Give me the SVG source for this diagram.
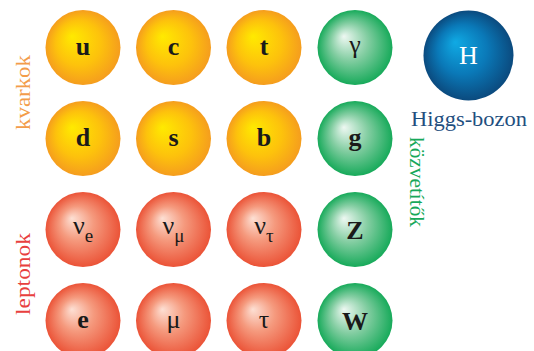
<svg xmlns="http://www.w3.org/2000/svg" width="534" height="351" viewBox="0 0 534 351">
<defs>
<radialGradient id="gy" cx="0.5" cy="0.5" r="0.5" fx="0.35" fy="0.35"><stop offset="0" stop-color="#ffea00"/><stop offset="0.6" stop-color="#fdc20c"/><stop offset="1" stop-color="#f59d1e"/></radialGradient>
<radialGradient id="gr" cx="0.5" cy="0.5" r="0.5" fx="0.35" fy="0.35"><stop offset="0" stop-color="#fde0d4"/><stop offset="0.45" stop-color="#f59a7e"/><stop offset="1" stop-color="#eb5337"/></radialGradient>
<radialGradient id="gg" cx="0.5" cy="0.5" r="0.5" fx="0.35" fy="0.35"><stop offset="0" stop-color="#eef8f2"/><stop offset="0.5" stop-color="#82cda1"/><stop offset="1" stop-color="#17aa5a"/></radialGradient>
<radialGradient id="gb" cx="0.5" cy="0.5" r="0.5" fx="0.35" fy="0.35"><stop offset="0" stop-color="#10aae4"/><stop offset="0.55" stop-color="#0a79b8"/><stop offset="1" stop-color="#0b4a7e"/></radialGradient>
</defs>
<style>
text{font-family:"Liberation Serif","Times New Roman",serif}
.l{font-size:26px;fill:#1a1a1a;text-anchor:middle}
.b{font-weight:bold}
.s{font-size:19px}
.lab{font-size:22px}
</style>
<g id="u"><circle cx="83" cy="47.5" r="37.5" fill="url(#gy)"/><text class="l b" x="83" y="54.5">u</text></g>
<g id="c"><circle cx="173.5" cy="47.5" r="37.5" fill="url(#gy)"/><text class="l b" x="173.5" y="54.5">c</text></g>
<g id="t"><circle cx="264" cy="47.5" r="37.5" fill="url(#gy)"/><text class="l b" x="264" y="54.5">t</text></g>
<g id="gamma"><circle cx="355" cy="47.5" r="37.5" fill="url(#gg)"/><text class="l" x="355" y="53">γ</text></g>
<g id="d"><circle cx="83" cy="138.5" r="37.5" fill="url(#gy)"/><text class="l b" x="83" y="145.5">d</text></g>
<g id="s"><circle cx="173.5" cy="138.5" r="37.5" fill="url(#gy)"/><text class="l b" x="173.5" y="145.5">s</text></g>
<g id="b"><circle cx="264" cy="138.5" r="37.5" fill="url(#gy)"/><text class="l b" x="264" y="145.5">b</text></g>
<g id="g"><circle cx="355" cy="138.5" r="37.5" fill="url(#gg)"/><text class="l b" x="355" y="145.5">g</text></g>
<g id="nue"><circle cx="83" cy="229.5" r="37.5" fill="url(#gr)"/><text class="l" x="83" y="234">ν<tspan class="s" dy="7.5">e</tspan></text></g>
<g id="numu"><circle cx="173.5" cy="229.5" r="37.5" fill="url(#gr)"/><text class="l" x="173.5" y="234">ν<tspan class="s" dy="7.5">μ</tspan></text></g>
<g id="nutau"><circle cx="264" cy="229.5" r="37.5" fill="url(#gr)"/><text class="l" x="264" y="234">ν<tspan class="s" dy="7.5">τ</tspan></text></g>
<g id="Z"><circle cx="355" cy="229.5" r="37.5" fill="url(#gg)"/><text class="l b" x="355" y="238.5">Z</text></g>
<g id="e"><circle cx="83" cy="320.5" r="37.5" fill="url(#gr)"/><text class="l b" x="83" y="327.5">e</text></g>
<g id="mu"><circle cx="173.5" cy="320.5" r="37.5" fill="url(#gr)"/><text class="l" x="173.5" y="327.5">μ</text></g>
<g id="tau"><circle cx="264" cy="320.5" r="37.5" fill="url(#gr)"/><text class="l" x="264" y="327.5">τ</text></g>
<g id="W"><circle cx="355" cy="320.5" r="37.5" fill="url(#gg)"/><text class="l b" x="355" y="329.5">W</text></g>
<g id="H"><circle cx="468.5" cy="55.5" r="45" fill="url(#gb)"/><text class="l" x="468.5" y="64" style="fill:#ffffff">H</text></g>
<g id="labels">
<text class="lab" x="411" y="126" fill="#1f4f7f" textLength="116" lengthAdjust="spacingAndGlyphs">Higgs-bozon</text>
<text class="lab" transform="translate(30,130) rotate(-90)" fill="#f39c4a" textLength="75" lengthAdjust="spacingAndGlyphs">kvarkok</text>
<text class="lab" transform="translate(30,315) rotate(-90)" fill="#e8403e" textLength="82" lengthAdjust="spacingAndGlyphs">leptonok</text>
<text class="lab" transform="translate(410,137) rotate(90)" fill="#17a85a" textLength="90" lengthAdjust="spacingAndGlyphs">közvetítők</text>
</g>
<g id="connectors"/>
</svg>
